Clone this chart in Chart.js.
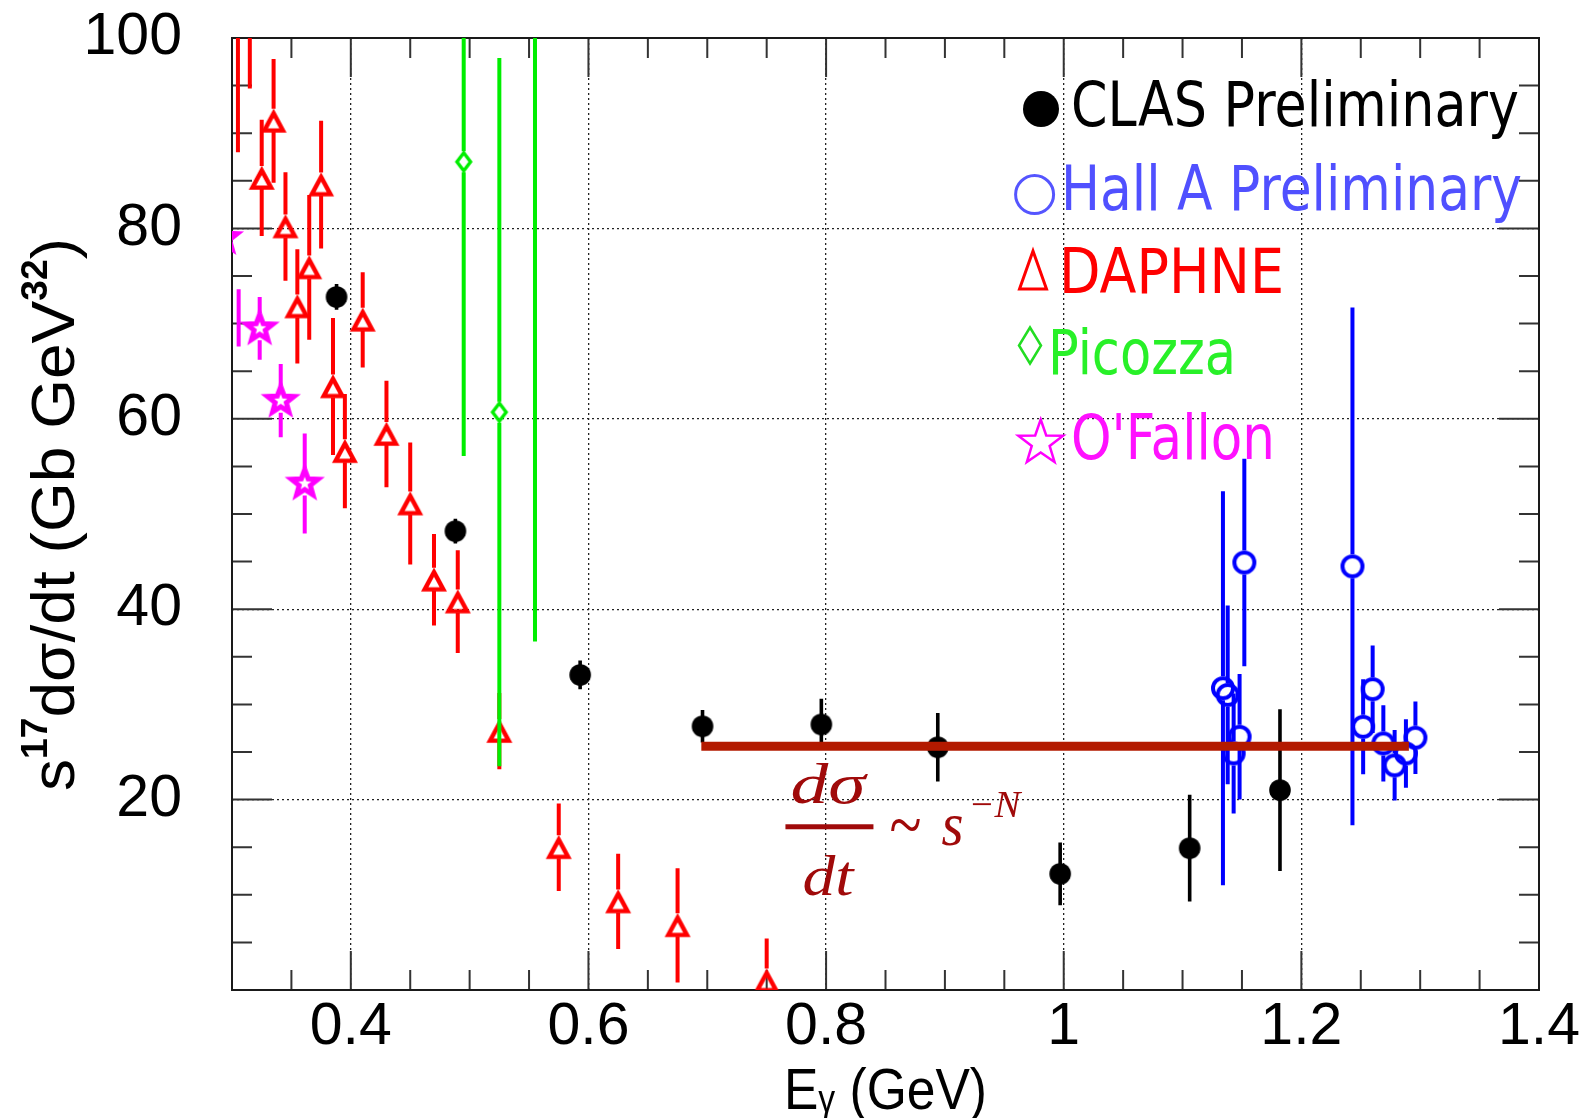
<!DOCTYPE html>
<html>
<head>
<meta charset="utf-8">
<title>s17 dsigma/dt vs photon energy</title>
<script src="https://cdn.jsdelivr.net/npm/chart.js@4.4.1/dist/chart.umd.min.js"></script>
<style>
  html, body { margin: 0; padding: 0; background: #fff; }
  #plot { display: block; }
</style>
</head>
<body>
<canvas id="plot" width="1591" height="1118"></canvas>
<script>
// photon energy E (GeV) and s^17 dsigma/dt (Gb GeV^32) with errors
const clasE   = [0.388, 0.488, 0.593, 0.696, 0.796, 0.894, 0.997, 1.106, 1.182];
const clasY   = [72.8, 48.2, 33.1, 27.7, 27.9, 25.5, 12.2, 14.9, 21.0];
const clasErr = [1.35, 1.3, 1.5, 1.7, 2.7, 3.6, 3.3, 5.6, 8.5];

const hallaE   = [1.134, 1.138, 1.143, 1.148, 1.152, 1.243, 1.252, 1.260, 1.269, 1.2785, 1.288, 1.296];
const hallaY   = [31.7, 31.0, 24.85, 26.6, 44.9, 44.5, 27.65, 31.6, 25.9, 23.6, 24.85, 26.5];
const hallaErr = [20.7, 9.4, 6.3, 6.6, 10.9, 27.2, 5.0, 4.6, 4.0, 3.7, 3.6, 3.8];

const daphneE   = [0.305, 0.315, 0.325, 0.335, 0.345, 0.355, 0.365, 0.375, 0.385, 0.395,
                   0.41, 0.43, 0.45, 0.47, 0.49, 0.525, 0.575, 0.625, 0.675, 0.75];
const daphneY   = [103, 104, 85.3, 91.3, 80.2, 71.8, 75.9, 84.6, 63.4, 56.6,
                   70.4, 58.4, 51.1, 43.1, 40.8, 27.2, 15.0, 9.3, 6.8, 1.0];
const daphneErr = [15, 9.3, 6.1, 6.5, 5.7, 6.0, 7.6, 6.7, 7.2, 6.0,
                   5.0, 5.6, 6.4, 4.8, 5.4, 4.0, 4.6, 5.0, 6.0, 4.4];

const picozzaE   = [0.495, 0.525, 0.555];
const picozzaY   = [87.0, 60.7, 104];
const picozzaErr = [30.9, 37.2, 67.4];

const ofallonE   = [0.2932, 0.3056, 0.3233, 0.341, 0.3612];
const ofallonY   = [79.0, 70.6, 69.5, 61.9, 53.2];
const ofallonErr = [3.0, 3.0, 3.3, 3.85, 5.25];

// flat s^-N line
const fitE = [0.695, 1.2905];
const fitY = [25.6, 25.6];

const xTicks = [0.4, 0.6, 0.8, 1.0, 1.2, 1.4];
const yTicks = [20, 40, 60, 80, 100];

const FONT = '"Liberation Sans", Arial, sans-serif';
const SERIF = '"Liberation Serif", "Times New Roman", serif';

// ROOT-like marker shapes, drawn around (0,0)
function markerPath(ctx, m) {
  const w = m.w, h = m.h;
  ctx.beginPath();
  if (m.kind === 'circle') {
    ctx.arc(0, 0, h, 0, Math.PI * 2);
  } else if (m.kind === 'triangle') {
    ctx.moveTo(0, -h + 1); ctx.lineTo(w, h + 1); ctx.lineTo(-w, h + 1); ctx.closePath();
  } else if (m.kind === 'diamond') {
    ctx.moveTo(0, -h); ctx.lineTo(w, 0); ctx.lineTo(0, h); ctx.lineTo(-w, 0); ctx.closePath();
  } else if (m.kind === 'star') {
    const inner = m.inner || 0.4;
    for (let i = 0; i < 10; i++) {
      const r = i % 2 ? h * inner : h;
      const a = -Math.PI / 2 + i * Math.PI / 5;
      if (i === 0) ctx.moveTo(r * Math.cos(a), r * Math.sin(a));
      else ctx.lineTo(r * Math.cos(a), r * Math.sin(a));
    }
    ctx.closePath();
  }
}

function drawMarker(ctx, m, x, y) {
  ctx.save();
  ctx.translate(x, y);
  markerPath(ctx, m);
  if (m.fill) { ctx.fillStyle = m.color; ctx.fill(); }
  else { ctx.strokeStyle = m.color; ctx.lineWidth = m.lw; ctx.lineJoin = 'miter'; ctx.stroke(); }
  ctx.restore();
}

function markerCanvas(m) {
  const c = document.createElement('canvas');
  c.width = 44; c.height = 44;
  drawMarker(c.getContext('2d'), m, 22, 22);
  return c;
}

const mk = {
  clas:    { kind: 'circle',   w: 10.8, h: 10.8, fill: true, color: '#000000' },
  halla:   { kind: 'circle',   w: 10, h: 10, lw: 4, color: '#0000ff' },
  daphne:  { kind: 'triangle', w: 9.3, h: 8.6, lw: 4.4, color: '#ff0000' },
  picozza: { kind: 'diamond',  w: 6.8, h: 9, lw: 3.4, color: '#00ee00' },
  ofallon: { kind: 'star',     w: 14, h: 14, lw: 5, inner: 0.42, color: '#ff00ff' }
};

function pts(xs, ys) { return xs.map((e, i) => ({ x: e, y: ys[i] })); }

// vertical error bars, broken around open markers like ROOT does
const errorBars = {
  id: 'errorBars',
  beforeDatasetDraw(chart, args) {
    const ds = chart.data.datasets[args.index];
    if (!ds.err) return;
    const { ctx, chartArea: a, scales: { x, y } } = chart;
    ctx.save();
    ctx.beginPath();
    ctx.rect(a.left, a.top, a.right - a.left, a.bottom - a.top);
    ctx.clip();
    ctx.strokeStyle = ds.barColor;
    ctx.lineWidth = ds.barWidth;
    ds.data.forEach((p, i) => {
      const px = x.getPixelForValue(p.x);
      const py = y.getPixelForValue(p.y);
      const hi = y.getPixelForValue(p.y + ds.err[i]);
      const lo = y.getPixelForValue(p.y - ds.err[i]);
      const shown = Array.isArray(ds.pointRadius) ? ds.pointRadius[i] > 0 : true;
      const gu = shown ? ds.gapUp : 0, gd = shown ? ds.gapDown : 0;
      ctx.beginPath();
      if (hi < py - gu) { ctx.moveTo(px, py - gu); ctx.lineTo(px, hi); }
      if (lo > py + gd) { ctx.moveTo(px, py + gd); ctx.lineTo(px, lo); }
      ctx.stroke();
    });
    ctx.restore();
  }
};

// frame plus inward tick marks on all four sides
const frame = {
  id: 'frame',
  beforeDatasetsDraw(chart) {
    const { ctx, chartArea: a, scales: { x, y } } = chart;
    ctx.save();
    ctx.strokeStyle = '#333';
    ctx.lineWidth = 2;
    ctx.beginPath();
    for (let k = 0; k <= 22; k++) {
      const v = 0.3 + k * 0.05;
      const px = x.getPixelForValue(v);
      const len = xTicks.some(t => Math.abs(t - v) < 1e-6) ? 39 : 20;
      ctx.moveTo(px, a.bottom); ctx.lineTo(px, a.bottom - len);
      ctx.moveTo(px, a.top); ctx.lineTo(px, a.top + len);
    }
    for (let v = 0; v <= 100; v += 5) {
      const py = y.getPixelForValue(v);
      const len = v % 20 === 0 ? 40 : 20;
      ctx.moveTo(a.left, py); ctx.lineTo(a.left + len, py);
      ctx.moveTo(a.right, py); ctx.lineTo(a.right - len, py);
    }
    ctx.stroke();
    ctx.strokeStyle = '#1a1a1a';
    ctx.strokeRect(a.left, a.top, a.right - a.left, a.bottom - a.top);
    ctx.restore();
  }
};

// draws a row of text pieces squeezed/stretched to a given total width
function drawRich(ctx, parts, x, y, width) {
  let natural = 0;
  parts.forEach(p => { ctx.font = p[1]; natural += ctx.measureText(p[0]).width; });
  const k = width / natural;
  ctx.save();
  ctx.translate(x, y);
  ctx.scale(k, 1);
  let cx = 0;
  parts.forEach(p => {
    ctx.font = p[1];
    ctx.fillText(p[0], cx, p[2] || 0);
    cx += ctx.measureText(p[0]).width;
  });
  ctx.restore();
}

const legendRows = [
  { mx: 1041,   my: 109,   tx: 1071, ty: 126, tw: 448, m: { kind: 'circle', w: 18, h: 18, fill: true, color: '#000' }, tc: '#000' },
  { mx: 1034.6, my: 194.6, tx: 1061, ty: 210, tw: 461, m: { kind: 'circle', w: 19, h: 19, lw: 3, color: '#5555ff' }, tc: '#5050ff' },
  { mx: 1033,   my: 269,   tx: 1059, ty: 293, tw: 225, m: { kind: 'triangle', w: 13.5, h: 19, lw: 3, color: '#ff0000' }, tc: '#ff0000' },
  { mx: 1030,   my: 345.5, tx: 1048, ty: 374, tw: 188, m: { kind: 'diamond', w: 11, h: 18, lw: 2.5, color: '#22dd22' }, tc: '#28f028' },
  { mx: 1040.7, my: 443,   tx: 1071, ty: 459, tw: 204, m: { kind: 'star', w: 23.5, h: 23.5, lw: 2.5, color: '#ff00ff' }, tc: '#ff11ff' }
];

const annotations = {
  id: 'annotations',
  afterDraw(chart) {
    const { ctx, scales: { x, y } } = chart;
    ctx.save();
    ctx.textBaseline = 'alphabetic';
    ctx.textAlign = 'left';

    // legend
    const sets = chart.data.datasets.filter(d => d.legendIndex !== undefined)
      .sort((p, q) => p.legendIndex - q.legendIndex);
    sets.forEach((d, i) => {
      const r = legendRows[i];
      drawMarker(ctx, r.m, r.mx, r.my);
      ctx.fillStyle = r.tc;
      drawRich(ctx, [[d.label, '62px "DejaVu Sans", sans-serif', 0]], r.tx, r.ty, r.tw);
    });

    // axis titles
    ctx.fillStyle = '#000';
    drawRich(ctx, [
      ['E', '58px ' + FONT, 0],
      ['\u03b3', '38px ' + FONT, 3],
      [' (GeV)', '58px ' + FONT, 0]
    ], 784, 1109, 203);

    ctx.save();
    ctx.translate(74, 791);
    ctx.rotate(-Math.PI / 2);
    drawRich(ctx, [
      ['s', '62px ' + FONT, 0],
      ['17', 'bold 36px ' + FONT, -27],
      ['d\u03c3/dt (Gb GeV', '62px ' + FONT, 0],
      ['32', 'bold 36px ' + FONT, -27],
      [')', '62px ' + FONT, 0]
    ], 0, 0, 553);
    ctx.restore();

    // dsigma/dt ~ s^-N
    const fx = x.getPixelForValue(0.77), fy = y.getPixelForValue(19.3);
    ctx.fillStyle = '#a00a0a';
    drawRich(ctx, [['d\u03c3', 'italic 56px ' + SERIF, 0]], fx, fy - 3, 75);
    ctx.fillRect(fx - 5, fy + 18, 88, 5);
    drawRich(ctx, [['dt', 'italic 56px ' + SERIF, 0]], fx + 12, fy + 89, 51);
    drawRich(ctx, [['~', '72px ' + SERIF, 0]], fx + 99, fy + 43, 32);
    drawRich(ctx, [['s', 'italic 62px ' + SERIF, 0]], fx + 151, fy + 39, 22);
    drawRich(ctx, [['\u2212N', 'italic 38px ' + SERIF, 0]], fx + 178, fy + 11, 52);
    ctx.restore();
  }
};

// keep the plot frame where it is, whatever size the tick labels are
function fixPadding(s) {
  s.paddingTop = 0; s.paddingBottom = 0; s.paddingLeft = 0; s.paddingRight = 0;
}

const ctx = document.getElementById('plot').getContext('2d');
const chart = new Chart(ctx, {
  type: 'scatter',
  data: {
    datasets: [
      {
        type: 'line', label: 'fit', data: pts(fitE, fitY), order: 0,
        showLine: true, borderColor: '#b31a00', borderWidth: 9, borderCapStyle: 'butt',
        pointRadius: 0, clip: 0
      },
      {
        label: 'Hall A Preliminary', legendIndex: 1, data: pts(hallaE, hallaY), err: hallaErr, order: 1,
        barColor: '#0000ff', barWidth: 4, gapUp: 12, gapDown: 12,
        pointStyle: markerCanvas(mk.halla), pointRadius: 10, clip: 0
      },
      {
        label: 'CLAS Preliminary', legendIndex: 0, data: pts(clasE, clasY), err: clasErr, order: 2,
        barColor: '#000000', barWidth: 3.6, gapUp: 9, gapDown: 9,
        pointStyle: markerCanvas(mk.clas), pointRadius: 10, clip: 0
      },
      {
        label: "O'Fallon", legendIndex: 4, data: pts(ofallonE, ofallonY), err: ofallonErr, order: 3,
        barColor: '#ff00ff', barWidth: 4, gapUp: 15, gapDown: 12,
        pointStyle: markerCanvas(mk.ofallon), pointRadius: [14, 0, 14, 14, 14], clip: 0
      },
      {
        label: 'Picozza', legendIndex: 3, data: pts(picozzaE, picozzaY), err: picozzaErr, order: 4,
        barColor: '#00ee00', barWidth: 4, gapUp: 10.5, gapDown: 10.5,
        pointStyle: markerCanvas(mk.picozza), pointRadius: 9, clip: 0
      },
      {
        label: 'DAPHNE', legendIndex: 2, data: pts(daphneE, daphneY), err: daphneErr, order: 5,
        barColor: '#ff0000', barWidth: 4, gapUp: 12, gapDown: 11,
        pointStyle: markerCanvas(mk.daphne), pointRadius: 10, clip: 0
      }
    ]
  },
  options: {
    responsive: false,
    animation: false,
    devicePixelRatio: 1,
    events: [],
    layout: { padding: { left: 0, top: 38, right: 52, bottom: 0 } },
    plugins: { legend: { display: false }, tooltip: { enabled: false } },
    scales: {
      x: {
        type: 'linear', min: 0.3, max: 1.4,
        afterFit: s => { s.height = 128; fixPadding(s); },
        afterBuildTicks: s => { s.ticks = xTicks.map(v => ({ value: v })); },
        ticks: {
          font: { family: FONT, size: 59 }, color: '#000', padding: 2,
          maxRotation: 0, autoSkip: false,
          callback: v => String(+v.toFixed(2))
        },
        grid: { color: '#222', lineWidth: 1.3, drawTicks: false },
        border: { display: false, dash: [2, 3] }
      },
      y: {
        type: 'linear', min: 0, max: 100,
        afterFit: s => { s.width = 232; fixPadding(s); },
        afterBuildTicks: s => { s.ticks = yTicks.map(v => ({ value: v })); },
        ticks: {
          font: { family: FONT, size: 59 }, color: '#000', padding: 50,
          callback: v => String(v)
        },
        grid: { color: '#222', lineWidth: 1.3, drawTicks: false },
        border: { display: false, dash: [2, 3] }
      }
    }
  },
  plugins: [errorBars, frame, annotations]
});
</script>
</body>
</html>
